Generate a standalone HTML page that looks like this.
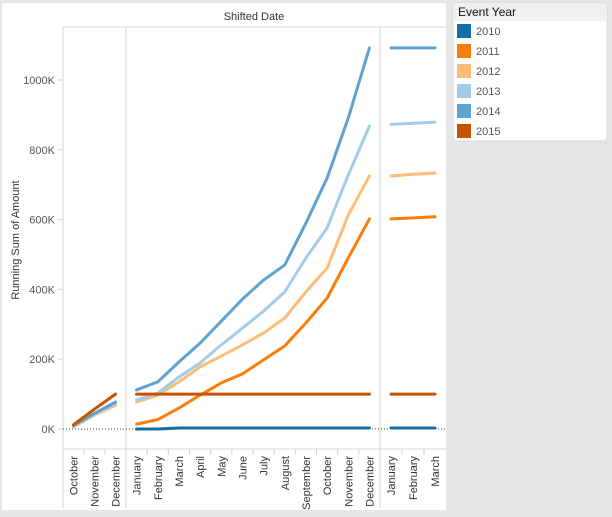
<!DOCTYPE html>
<html><head><meta charset="utf-8"><style>
body{margin:0;width:612px;height:517px;background:#e6e6e6;overflow:hidden;font-family:"Liberation Sans",Arial,sans-serif}
svg{position:absolute;left:0;top:0}
</style></head><body>
<svg id="c" width="612" height="517">
<rect x="2" y="3" width="444" height="507" fill="#fff"/>
<text x="254" y="20" font-size="11" fill="#333" text-anchor="middle">Shifted Date</text>
<text transform="translate(19,240) rotate(-90)" font-size="11" fill="#333" text-anchor="middle">Running Sum of Amount</text>
<g id="legend">
<rect x="453" y="3" width="154" height="138" rx="4" fill="#fff" stroke="#d8d8d8"/>
<path d="M453,21 V7 a4,4 0 0 1 4,-4 H603 a4,4 0 0 1 4,4 V21 Z" fill="#f0f0f0"/>
<text x="458" y="16" font-size="12" fill="#111">Event Year</text>
</g>
<g id="g"></g>
</svg>
<script>
const years=["2010","2011","2012","2013","2014","2015"];
const colors=["#1170aa","#fc7d0b","#ffbc79","#a3cce9","#5fa2ce","#c85200"];
const monthsA=["October","November","December"];
const monthsB=["January","February","March","April","May","June","July","August","September","October","November","December"];
const monthsC=["January","February","March"];
const yTicks=[0,200,400,600,800,1000];
// values in K, per year per pane (null = no data)
const paneA={"2012":[6,40,68],"2013":[8,43,73],"2014":[10,45,77],"2015":[12,57,100]};
const paneB={
"2010":[0,0,3,3,3,3,3,3,3,3,3,3],
"2011":[14,27,60,97,132,158,198,238,304,375,490,602],
"2012":[77,97,135,178,209,241,275,318,393,461,613,725],
"2013":[83,103,149,189,241,289,338,393,490,576,728,868],
"2014":[112,135,192,246,309,372,427,470,590,719,891,1092],
"2015":[100,100,100,100,100,100,100,100,100,100,100,100]};
const paneC={"2010":[3,3,3],"2011":[602,605,608],"2012":[725,730,733],"2013":[873,876,879],"2014":[1092,1092,1092],"2015":[100,100,100]};

const NS="http://www.w3.org/2000/svg",g=document.getElementById('g');
function el(t,a,p){const e=document.createElementNS(NS,t);for(const k in a)e.setAttribute(k,a[k]);(p||g).appendChild(e);return e;}
const y=v=>429-v*0.349;
const panes=[{x0:63,x1:126,m:monthsA,d:paneA,n:"a"},{x0:126,x1:380,m:monthsB,d:paneB,n:"b"},{x0:380,x1:446,m:monthsC,d:paneC,n:"c"}];
// frame
el('line',{x1:63,y1:27,x2:446,y2:27,stroke:"#d4d4d4"});
el('line',{x1:63,y1:449,x2:446,y2:449,stroke:"#d4d4d4"});
[63,126,380].forEach(x=>el('line',{x1:x,y1:27,x2:x,y2:508,stroke:"#d4d4d4"}));
yTicks.forEach(t=>{
  el('line',{x1:58,x2:63,y1:y(t),y2:y(t),stroke:"#d4d4d4"});
  const tx=el('text',{x:55,y:y(t)+4,"font-size":11,fill:"#555","text-anchor":"end"});
  tx.textContent=t+"K";
  
  
});
el('line',{x1:63,x2:446,y1:y(0),y2:y(0),stroke:"#444","stroke-dasharray":"1,2"});
panes.forEach(p=>{
  const step=(p.x1-p.x0)/p.m.length;
  const xp=i=>p.x0+step*(i+0.5);
  p.m.forEach((m,i)=>{
    if(i>0)el('line',{x1:p.x0+step*i,x2:p.x0+step*i,y1:449,y2:455,stroke:"#d4d4d4"});
    const t=el('text',{transform:`translate(${xp(i)+4},456) rotate(-90)`,"font-size":11,fill:"#333","text-anchor":"end"});
    t.textContent=m;
    
    
  });
  years.forEach((yr,k)=>{
    const vals=p.d[yr];if(!vals)return;
    const pl=el('polyline',{points:vals.map((v,i)=>xp(i)+","+y(v)).join(" "),fill:"none",stroke:colors[k],"stroke-width":3,"stroke-linejoin":"round","stroke-linecap":"round"});
    
    
  });
});
const lg=document.getElementById('legend');
years.forEach((yr,k)=>{
  const r=el('rect',{x:457,y:24+k*20,width:14,height:14,fill:colors[k]},lg);
  
  
  const t=el('text',{x:476,y:35+k*20,"font-size":11,fill:"#555"},lg);
  t.textContent=yr;
  
  
});
</script>
</body></html>
